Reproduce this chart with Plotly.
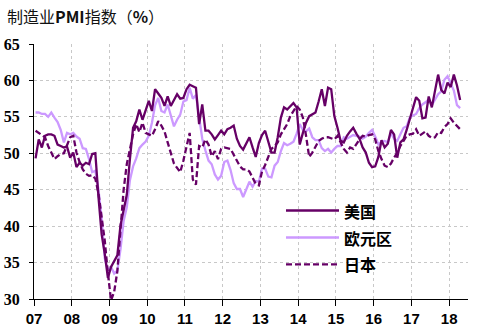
import plotly.graph_objects as go

# Monthly PMI, Jan 2007 .. Apr 2018
start_year = 2007
n_months = 136

us = [
    49.3, 51.9, 50.8, 52.4, 52.6, 52.6, 52.4, 51.2, 51.0, 50.8, 50.9, 49.4,
    50.1, 48.1, 48.7, 48.3, 48.7, 48.5, 49.9, 50.0, 44.0, 38.9, 36.2, 32.9,
    34.4, 35.3, 36.0, 40.1, 42.0, 44.3, 49.2, 53.5, 54.4, 56.0, 54.6, 56.0,
    57.2, 55.8, 58.8, 58.2, 57.6, 56.5, 57.8, 56.5, 57.3, 58.1, 57.5, 57.6,
    58.8, 59.4, 59.2, 59.0, 54.0, 56.7, 53.1, 53.1, 52.6, 51.9, 52.5, 53.1,
    52.6, 53.3, 53.5, 53.8, 52.0, 51.0, 50.5, 51.3, 52.2, 50.8, 49.5, 51.4,
    52.5, 53.1, 51.5, 50.1, 50.1, 52.2, 54.9, 56.3, 56.0, 56.5, 56.9, 56.3,
    51.2, 52.8, 54.2, 55.1, 55.3, 55.6, 57.1, 58.8, 56.5, 59.0, 58.8, 55.1,
    53.5, 51.7, 51.5, 52.4, 53.0, 53.5, 52.7, 52.0, 50.8, 50.1, 48.7, 48.1,
    48.2, 49.5, 51.8, 50.8, 51.3, 53.2, 52.6, 49.4, 51.5, 51.9, 53.2, 54.7,
    56.0, 57.7, 57.2, 54.8, 54.9, 57.8, 56.3, 58.8, 60.8, 58.7, 58.2, 59.7,
    59.1, 60.8, 59.3, 57.3,
]

eurozone = [
    55.6, 55.6, 55.4, 55.4, 55.0, 55.6, 54.9, 54.3, 53.2, 51.5, 52.8, 52.6,
    52.8, 52.3, 52.0, 50.7, 50.6, 49.2, 47.4, 47.6, 45.0, 41.1, 35.6, 33.9,
    34.4, 33.5, 33.9, 36.8, 40.7, 42.6, 46.3, 48.2, 49.3, 50.7, 51.2, 51.6,
    52.4, 54.2, 56.6, 57.6, 55.8, 55.6, 56.7, 55.1, 53.7, 54.6, 55.3, 57.1,
    57.3, 59.0, 57.5, 58.0, 54.6, 52.0, 50.4, 49.0, 48.5, 47.1, 46.4, 46.9,
    48.8, 49.0, 47.7, 45.9, 45.1, 45.1, 44.0, 45.1, 46.1, 45.4, 46.2, 46.1,
    47.9, 47.9, 46.8, 46.7, 48.3, 48.8, 50.3, 51.4, 51.1, 51.3, 51.6, 52.7,
    54.0, 53.2, 53.0, 53.4, 52.2, 51.8, 51.8, 50.7, 50.3, 50.6, 50.1, 50.6,
    51.0, 51.0, 52.2, 52.0, 52.2, 52.5, 52.4, 52.3, 52.0, 52.3, 52.8, 53.2,
    52.3, 51.2, 51.6, 51.7, 51.5, 52.8, 52.0, 51.7, 52.6, 53.5, 53.7, 54.9,
    55.2, 55.4, 56.2, 56.7, 57.0, 57.4, 56.6, 57.4, 58.1, 58.5, 60.1, 60.6,
    59.6, 58.6, 56.6, 56.2,
]

japan = [
    53.1, 52.8, 52.6, 52.2, 51.0, 50.0, 49.2, 49.6, 49.9, 50.0, 51.2, 52.2,
    52.4, 50.1, 48.8, 47.8, 47.2, 46.9, 47.0, 46.5, 44.5, 41.5, 38.0, 33.5,
    29.8, 31.0, 33.8, 39.5, 45.0, 48.5, 50.5, 52.6, 54.0, 52.9, 54.2, 52.8,
    52.6, 52.4, 53.3, 54.4, 53.8, 53.0, 51.5, 50.0, 48.6, 48.0, 47.4, 49.0,
    50.8, 52.8, 46.4, 45.7, 51.0, 50.8, 51.9, 51.2, 49.6, 50.3, 49.2, 50.6,
    50.8, 50.7, 50.6, 49.8, 49.0, 48.2, 47.8, 47.8, 47.5, 46.7, 45.8, 45.6,
    47.5, 48.4, 49.5, 50.6, 51.0, 51.5, 52.6, 53.3, 54.0, 55.1, 55.8, 56.5,
    56.0, 54.9, 52.4, 49.5, 50.1, 51.0, 51.7, 52.0, 52.2, 52.2, 52.0, 51.9,
    52.4, 51.5, 50.6, 50.1, 50.8, 50.6, 51.3, 51.9, 52.4, 52.3, 52.5, 52.6,
    51.9, 50.3, 49.2, 48.3, 48.1, 48.6, 49.4, 50.1, 51.0, 51.7, 52.4, 52.6,
    52.7, 53.3, 52.4, 52.7, 53.0, 52.4, 52.1, 52.2, 52.9, 52.8, 53.6, 54.0,
    54.8, 54.2, 53.7, 53.3,
]

series_names = ["美国", "欧元区", "日本"]
year_ticks = list(range(2007, 2019))
year_labels = ["07", "08", "09", "10", "11", "12", "13", "14", "15", "16", "17", "18"]
y_ticks = [30, 35, 40, 45, 50, 55, 60, 65]

x = [start_year + (i + 0.5) / 12 for i in range(n_months)]

DARK = "#660066"
LIGHT = "#CC99FF"

fig = go.Figure()
fig.add_trace(go.Scatter(x=x, y=eurozone, mode="lines", name=series_names[1],
                         line=dict(color=LIGHT, width=2.3), showlegend=False))
fig.add_trace(go.Scatter(x=x, y=japan, mode="lines", name=series_names[2],
                         line=dict(color=DARK, width=2.3, dash="6px,3px"), showlegend=False))
fig.add_trace(go.Scatter(x=x, y=us, mode="lines", name=series_names[0],
                         line=dict(color=DARK, width=2.3), showlegend=False))

# manual legend (line samples + labels)
L, R, T, B = 34, 12, 44, 31
W, H = 480 - L - R, 330 - T - B
def px_x(p):
    return (p - L) / W
def px_y(p):
    return (330 - B - p) / H

legend_items = [
    (series_names[0], DARK, "solid", 210.5),
    (series_names[1], LIGHT, "solid", 237.5),
    (series_names[2], DARK, "6px,3px", 264.3),
]
for name, col, dash, py in legend_items:
    fig.add_shape(type="line", xref="paper", yref="paper",
                  x0=px_x(286), x1=px_x(339), y0=px_y(py), y1=px_y(py),
                  line=dict(color=col, width=2.3, dash=dash))
    fig.add_annotation(xref="paper", yref="paper", x=px_x(342), y=px_y(py),
                       text=name, showarrow=False, xanchor="left", yanchor="middle",
                       font=dict(family="Noto Sans CJK SC", size=16, color="black", weight="bold"))

fig.update_layout(
    width=480, height=330,
    margin=dict(l=L, r=R, t=T, b=B),
    paper_bgcolor="white", plot_bgcolor="white",
    title=dict(text="制造业<b>PMI</b>指数（<b>%</b>）", x=7 / 480, xref="container",
               xanchor="left", y=1 - 17 / 330, yref="container", yanchor="middle",
               font=dict(family="Noto Sans CJK SC", size=16, color="#111111")),
    xaxis=dict(range=[2007, 2018.5], tickvals=year_ticks, ticktext=year_labels,
               showgrid=True, gridcolor="#c8c8c8", griddash="dot", gridwidth=1,
               showline=True, linecolor="black", linewidth=1.2,
               ticks="outside", ticklen=6, tickcolor="black", tickwidth=1.2,
               tickfont=dict(family="Liberation Sans", size=15, color="black", weight="bold"),
               zeroline=False, fixedrange=True, automargin=False),
    yaxis=dict(range=[30, 65], tickvals=y_ticks,
               showgrid=True, gridcolor="#c8c8c8", griddash="dot", gridwidth=1,
               showline=True, linecolor="black", linewidth=1.2,
               ticks="outside", ticklen=4, tickcolor="black", tickwidth=1.2,
               ticklabelstandoff=6,
               tickfont=dict(family="Liberation Serif", size=16, color="black", weight="bold"),
               zeroline=False, fixedrange=True, automargin=False),
)

fig.write_html("out.html")
